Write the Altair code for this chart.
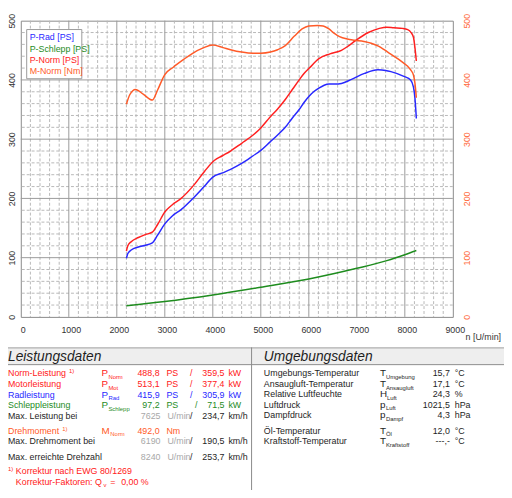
import altair as alt
import pandas as pd

# ---------------- curve data ----------------
rad_rpm = [2200, 2230, 2300, 2450, 2600, 2740, 2850, 3000, 3150, 3340, 3600, 3830, 4000, 4200, 4370,
           4600, 4840, 5000, 5190, 5350, 5510, 5650, 5800, 5900, 6010, 6100, 6210, 6320, 6420, 6550,
           6680, 6890, 7160, 7440, 7600, 7710, 7980, 8120, 8180, 8210, 8240]
rad_ps = [99, 107, 113, 118, 121, 125, 138, 157, 170, 181, 201, 221, 236, 243, 249,
          259, 272, 281, 295, 307, 320, 335, 350, 362, 373, 380, 386, 391, 393, 393,
          394, 401, 411, 417, 416, 414, 406, 400, 388, 370, 335]

norm_rpm = [2200, 2230, 2300, 2450, 2600, 2740, 2850, 3000, 3150, 3340, 3600, 3830, 4030, 4200, 4370,
            4600, 4840, 5000, 5190, 5350, 5510, 5650, 5800, 5900, 6010, 6210, 6440, 6680, 6800, 6950,
            7240, 7470, 7625, 7770, 7950, 8060, 8130, 8180, 8210, 8240]
norm_ps = [111, 120, 127, 134, 139, 143, 156, 177, 189, 200, 222, 246, 264, 272, 280,
           293, 307, 319, 337, 351, 367, 383, 400, 411, 420, 436, 444, 450, 456, 465,
           480, 487, 489, 488, 487, 485, 480, 472, 455, 432]

schlepp_rpm = [2200, 3000, 4000, 5000, 6000, 7000, 7625, 8000, 8240]
schlepp_ps = [19, 26, 37, 50, 64, 82, 95, 105, 112]

torque_rpm = [2200, 2270, 2390, 2550, 2740, 2850, 3000, 3170, 3400, 3580, 3800, 4000, 4200, 4370,
              4600, 4840, 5000, 5200, 5350, 5510, 5700, 5860, 6000, 6190, 6300, 6420, 6540, 6640,
              6800, 6950, 7150, 7300, 7450, 7570, 7700, 7850, 7950, 8060, 8130, 8180, 8210, 8240]
torque_nm = [359, 375, 384, 376, 366, 383, 409, 421, 435, 445, 454, 459, 455, 451,
             447, 445, 445, 447, 451, 458, 474, 486, 491, 492, 491, 486, 478, 473,
             469, 467, 465, 462, 457, 451, 444, 436, 430, 423, 416, 408, 395, 370]

series_names = ["P-Rad [PS]", "P-Schlepp [PS]", "P-Norm [PS]", "M-Norm [Nm]"]

# axis ticks
x_ticks = [0, 1000, 2000, 3000, 4000, 5000, 6000, 7000, 8000, 9000]
y_ticks = [0, 100, 200, 300, 400, 500]

# ---------------- table data ----------------
perf_labels = ["Norm-Leistung", "Motorleistung", "Radleistung", "Schleppleistung"]
perf_subs = ["Norm", "Mot", "Rad", "Schlepp"]
perf_ps_txt = ["488,8", "513,1", "415,9", "97,2"]
perf_kw_txt = ["359,5", "377,4", "305,9", "71,5"]

speed_labels = ["Max. Leistung bei", "Max. Drehmoment bei", "Max. erreichte Drehzahl"]
speed_rpm_txt = ["7625", "6190", "8240"]
speed_kmh_txt = ["234,7", "190,5", "253,7"]

torque_label = "Drehmoment"
torque_val_txt = "492,0"

env_labels = ["Umgebungs-Temperatur", "Ansaugluft-Temperatur", "Relative Luftfeuchte", "Luftdruck",
              "Dampfdruck", "Öl-Temperatur", "Kraftstoff-Temperatur"]
env_syms = ["T", "T", "H", "p", "p", "T", "T"]
env_subs = ["Umgebung", "Ansaugluft", "Luft", "Luft", "Dampf", "Öl", "Kraftstoff"]
env_vals = ["15,7", "17,1", "24,3", "1021,5", "4,3", "12,0", "---,-"]
env_units = ["°C", "°C", "%", "hPa", "hPa", "°C", "°C"]

# ---------------- styles / layout ----------------
BLUE, GREEN, RED, ORANGE = "#2828ff", "#1e8c1e", "#ff2020", "#ff5a28"
BLACK, GREY = "#1e1e1e", "#a8a8a8"
FONT = "Liberation Sans"
W, H = 439, 301
OX, OY = 21, 17   # page position of the plot origin


def vx(px):
    return px - OX


def vy(py):
    return py - OY


# ---------------- frames ----------------
power_df = pd.concat([
    pd.DataFrame({"rpm": rad_rpm, "val": rad_ps, "s": series_names[0]}),
    pd.DataFrame({"rpm": schlepp_rpm, "val": schlepp_ps, "s": series_names[1]}),
    pd.DataFrame({"rpm": norm_rpm, "val": norm_ps, "s": series_names[2]}),
])
torque_df = pd.DataFrame({"rpm": torque_rpm, "val": torque_nm})

xs = alt.Scale(domain=[0, 9000], nice=False, zero=False)
ys = alt.Scale(domain=[0, 500], nice=False)

minor_x = [v for v in range(0, 9001, 200) if v % 1000 != 0]
major_x = [v for v in range(1000, 9000, 1000)]
minor_y = [v for v in range(0, 501, 20) if v % 100 != 0]
major_y = [v for v in range(100, 500, 100)]

g_minor_x = alt.Chart(pd.DataFrame({"g": minor_x})).mark_rule(
    color="#b8b8b8", strokeDash=[3, 2], strokeWidth=1).encode(x=alt.X("g:Q", scale=xs, axis=None))
g_minor_y = alt.Chart(pd.DataFrame({"g": minor_y})).mark_rule(
    color="#b8b8b8", strokeDash=[3, 2], strokeWidth=1).encode(y=alt.Y("g:Q", scale=ys, axis=None))
g_major_x = alt.Chart(pd.DataFrame({"g": major_x})).mark_rule(
    color="#9a9a9a", strokeWidth=1).encode(x=alt.X("g:Q", scale=xs, axis=None))
g_major_y = alt.Chart(pd.DataFrame({"g": major_y})).mark_rule(
    color="#9a9a9a", strokeWidth=1).encode(y=alt.Y("g:Q", scale=ys, axis=None))

power = alt.Chart(power_df).mark_line(strokeWidth=1.5, interpolate="monotone").encode(
    x=alt.X("rpm:Q", scale=xs, axis=alt.Axis(
        orient="bottom", values=x_ticks, format="d", grid=False, domain=False, ticks=False, tickSize=0,
        labelFontSize=9, labelFont=FONT, labelColor="#333333", labelPadding=9,
        labelFlush=False, labelOffset=2, title=None)),
    y=alt.Y("val:Q", scale=ys, axis=alt.Axis(
        orient="left", values=y_ticks, format="d", grid=False, domain=False, ticks=False, tickSize=0,
        labelAngle=-90, labelAlign="center", labelBaseline="bottom",
        labelFontSize=9, labelFont=FONT, labelColor="#333333", labelPadding=4,
        labelFlush=False, title=None)),
    color=alt.Color("s:N", scale=alt.Scale(domain=series_names[:3], range=[BLUE, GREEN, RED]), legend=None),
    detail="s:N",
)

torque = alt.Chart(torque_df).mark_line(strokeWidth=1.5, interpolate="monotone", color=ORANGE).encode(
    x=alt.X("rpm:Q", scale=xs, axis=None),
    y=alt.Y("val:Q", scale=ys, axis=alt.Axis(
        orient="right", values=y_ticks, format="d", grid=False, domain=False, ticks=False, tickSize=0,
        labelAngle=-90, labelAlign="center", labelBaseline="top",
        labelFontSize=9, labelFont=FONT, labelColor="#ff6a40", labelPadding=10,
        labelFlush=False, title=None)),
)

# legend box
legend_box = alt.Chart(pd.DataFrame({"a": [0]})).mark_rect(
    fill="white", stroke="#9a9a9a", strokeWidth=1).encode(
    x=alt.value(vx(27)), x2=alt.value(vx(83)), y=alt.value(vy(26)), y2=alt.value(vy(76)))

# table decoration
band = alt.Chart(pd.DataFrame({"a": [0]})).mark_rect(fill="#eeeeee").encode(
    x=alt.value(vx(0)), x2=alt.value(vx(512)), y=alt.value(vy(349)), y2=alt.value(vy(366)))
line_top = alt.Chart(pd.DataFrame({"a": [0]})).mark_rule(color="#a0a0a0").encode(
    x=alt.value(vx(0)), x2=alt.value(vx(512)), y=alt.value(vy(349.5)))
line_bot = alt.Chart(pd.DataFrame({"a": [0]})).mark_rule(color="#8a8a8a").encode(
    x=alt.value(vx(0)), x2=alt.value(vx(512)), y=alt.value(vy(366.5)))
line_div = alt.Chart(pd.DataFrame({"a": [0]})).mark_rule(color="#8a8a8a").encode(
    x=alt.value(vx(255.5)), y=alt.value(vy(349)), y2=alt.value(vy(500)))

# ---------------- text records ----------------
left_recs, right_recs, head_recs = [], [], []


def L(t, px, py, col=BLACK, fs=9):
    left_recs.append({"t": t, "px": vx(px), "py": vy(py), "c": col, "fs": fs})


def R(t, px, py, col=BLACK, fs=9):
    right_recs.append({"t": t, "px": vx(px), "py": vy(py), "c": col, "fs": fs})


# legend entries
for i, (name, col) in enumerate(zip(series_names, [BLUE, GREEN, RED, ORANGE])):
    L(name, 30, 37 + i * 11.4, col, 9)

# axis title
L("n [U/min]", 473, 341, "#333333", 9)

# headers
head_recs.append({"t": "Leistungsdaten", "px": vx(8), "py": vy(363), "c": BLACK, "fs": 14})
head_recs.append({"t": "Umgebungsdaten", "px": vx(268), "py": vy(363), "c": BLACK, "fs": 14})

perf_cols = [RED, RED, BLUE, GREEN]
perf_y = [378.3, 389.3, 400, 410.7]
for i in range(4):
    c, y = perf_cols[i], perf_y[i]
    L(perf_labels[i], 8, y, c)
    L("P", 103, y, c, 10)
    L(perf_subs[i], 110, y + 2.5, c, 6)
    R(perf_ps_txt[i], 162, y, c)
    L("PS", 169, y, c)
    L("/", 198 if i == 3 else 193, y, c)
    R(perf_kw_txt[i], 228, y, c)
    L("kW", 232, y, c)
L("1)", 70, 375.5, RED, 6)

speed_y = [421.3, 447.5, 463.3]
for i in range(3):
    y = speed_y[i]
    L(speed_labels[i], 8, y)
    R(speed_rpm_txt[i], 163, y, GREY)
    L("U/min", 170, y, GREY)
    L("/", 193, y)
    R(speed_kmh_txt[i], 228, y)
    L("km/h", 232, y)

L(torque_label, 8, 436.7, ORANGE)
L("1)", 63, 434, ORANGE, 6)
L("M", 103, 436.7, ORANGE, 10)
L("Norm", 112, 439.2, ORANGE, 6)
R(torque_val_txt, 162, 436.7, ORANGE)
L("Nm", 169, 436.7, ORANGE)

L("1)", 8, 475, RED, 6)
L("Korrektur nach EWG 80/1269", 16, 477.3, RED)
L("Korrektur-Faktoren: Q", 16, 488.3, RED)
L("v", 105, 490.5, RED, 6)
L("=", 112, 488.3, RED)
L("0,00 %", 123, 488.3, RED)

env_y = [378.3, 389.3, 399.7, 410.5, 421.2, 436.9, 447.4]
for i in range(7):
    y = env_y[i]
    L(env_labels[i], 268, y)
    L(env_syms[i], 386, y, BLACK, 10)
    L(env_subs[i], 392 if env_syms[i] != "H" else 393, y + 2.5, BLACK, 6)
    R(env_vals[i], 457, y)
    L(env_units[i], 462, y)


def text_layer(recs, align, italic=False):
    kw = dict(align=align, baseline="alphabetic", font=FONT)
    if italic:
        kw["fontStyle"] = "italic"
    return alt.Chart(pd.DataFrame(recs)).mark_text(**kw).encode(
        x=alt.X("px:Q", scale=None, axis=None),
        y=alt.Y("py:Q", scale=None, axis=None),
        text="t:N",
        color=alt.Color("c:N", scale=None),
        size=alt.Size("fs:Q", scale=None),
    )


chart = alt.layer(
    g_minor_x, g_minor_y, g_major_x, g_major_y,
    legend_box,
    power, torque,
    band, line_top, line_bot, line_div,
    text_layer(left_recs, "left"),
    text_layer(right_recs, "right"),
    text_layer(head_recs, "left", italic=True),
).resolve_scale(x="independent", y="independent").properties(
    width=W, height=H,
    autosize=alt.AutoSizeParams(type="none"),
    padding={"left": 13, "top": 9, "right": 52, "bottom": 172},
    background="white",
).configure_view(stroke="#8a8a8a", strokeWidth=1)

chart.save("out.html", embed_options={"renderer": "svg", "actions": False})
